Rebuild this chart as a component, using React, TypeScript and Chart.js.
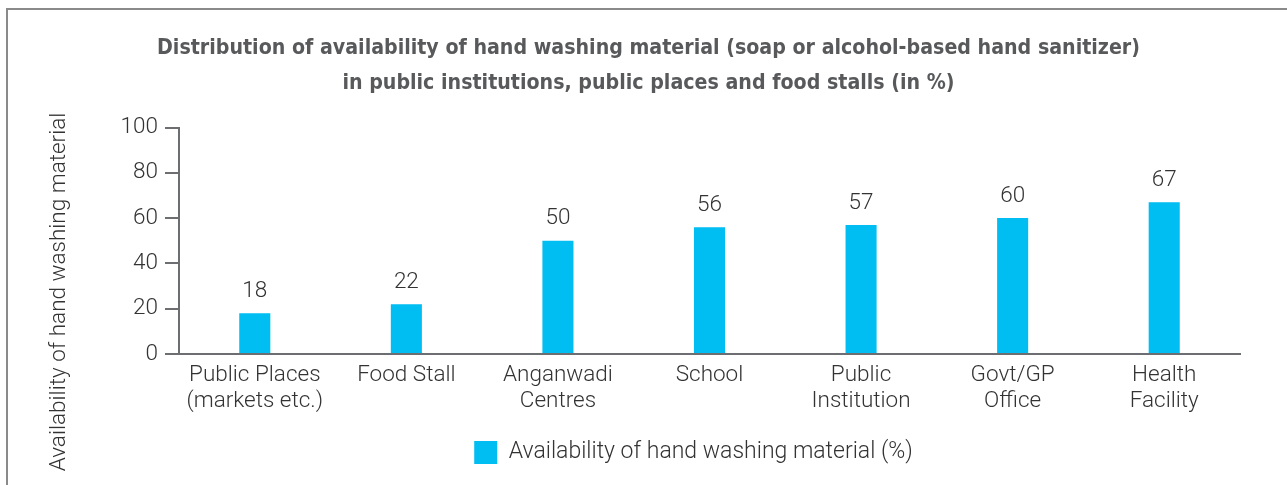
import React, { useEffect, useRef } from "react";
import { Chart, registerables } from "chart.js";

Chart.register(...registerables);

const categories: string[][] = [
  ["Public Places", "(markets etc.)"],
  ["Food Stall"],
  ["Anganwadi", "Centres"],
  ["School"],
  ["Public", "Institution"],
  ["Govt/GP", "Office"],
  ["Health", "Facility"],
];
const availability: number[] = [18, 22, 50, 56, 57, 60, 67];
const yTicks: number[] = [0, 20, 40, 60, 80, 100];
const seriesLabel = "Availability of hand washing material (%)";
const yAxisTitle = "Availability of hand washing material";
const titleLines = [
  "Distribution of availability of hand washing material (soap or alcohol-based hand sanitizer)",
  "in public institutions, public places and food stalls (in %)",
];

const BAR = "#00bdf2";
const AXIS = "#6d6e71";
const TEXT = "#333333";
const LIGHT = "Roboto";
const FS = 22.5;

const valueLabels = {
  id: "valueLabels",
  afterDatasetsDraw(chart: any) {
    const ctx = chart.ctx;
    const meta = chart.getDatasetMeta(0);
    ctx.save();
    ctx.font = `300 ${FS}px ${LIGHT}`;
    ctx.fillStyle = TEXT;
    ctx.textAlign = "center";
    ctx.textBaseline = "middle";
    meta.data.forEach((el: any, i: number) => {
      ctx.fillText(String(chart.data.datasets[0].data[i]), el.x, el.y - 22);
    });
    ctx.restore();
  },
};

const yTitle = {
  id: "yTitle",
  afterDraw(chart: any) {
    const ctx = chart.ctx;
    ctx.save();
    ctx.translate(59, 292);
    ctx.rotate(-Math.PI / 2);
    ctx.font = `300 ${FS}px ${LIGHT}`;
    ctx.fillStyle = TEXT;
    ctx.textAlign = "center";
    ctx.textBaseline = "middle";
    ctx.fillText(yAxisTitle, 0, 0);
    ctx.restore();
  },
};

const legendShift = {
  id: "legendShift",
  afterLayout(chart: any) {
    const lg = chart.legend;
    if (lg) {
      lg.left += 45;
      lg.right += 45;
    }
  },
};

export default function App() {
  const ref = useRef<HTMLCanvasElement | null>(null);
  useEffect(() => {
    if (!ref.current) return;
    const chart = new Chart(ref.current, {
      type: "bar",
      data: {
        labels: categories,
        datasets: [
          {
            label: seriesLabel,
            data: availability,
            backgroundColor: BAR,
            barPercentage: 0.205,
            categoryPercentage: 1,
          },
        ],
      },
      options: {
        responsive: false,
        animation: false,
        layout: { padding: { left: 57, right: 47, top: 31, bottom: 11 } },
        plugins: {
          tooltip: { enabled: false },
          title: {
            display: true,
            text: titleLines,
            color: "#58595b",
            font: { family: "'Liberation Sans Narrow', 'DejaVu Sans Condensed', sans-serif", size: 21.2, weight: "bold", lineHeight: 1.64 },
            padding: { top: 0, bottom: 27 },
          },
          legend: {
            position: "bottom",
            labels: {
              boxWidth: 23,
              boxHeight: 23,
              color: TEXT,
              font: { family: LIGHT, size: 23, weight: "300" },
              padding: 10,
            },
          },
        },
        scales: {
          x: {
            afterFit: (scale: any) => {
              scale.height = 77;
            },
            grid: { display: false },
            border: { display: true, color: AXIS, width: 2 },
            ticks: {
              color: TEXT,
              font: { family: LIGHT, size: FS, weight: "300", lineHeight: 1.17 },
              maxRotation: 0,
              autoSkip: false,
              padding: 0,
            },
          },
          y: {
            min: 0,
            max: 100,
            afterBuildTicks: (scale: any) => {
              scale.ticks = yTicks.map((v) => ({ value: v }));
            },
            afterFit: (scale: any) => {
              scale.width = 179 - 57;
            },
            grid: { drawOnChartArea: false, color: AXIS, lineWidth: 2, tickLength: 14 },
            border: { display: true, color: AXIS, width: 2 },
            ticks: {
              color: TEXT,
              font: { family: LIGHT, size: FS, weight: "300" },
              padding: 7,
            },
          },
        },
      },
      plugins: [valueLabels, yTitle, legendShift],
    });
    return () => chart.destroy();
  }, []);
  return (
    <div style={{ position: "fixed", left: 0, top: 0, width: 1287, height: 485, background: "#fff" }}>
      <div
        style={{
          position: "absolute",
          left: 6,
          top: 8,
          right: 0,
          bottom: 0,
          borderLeft: "2px solid #8a8a8a",
          borderTop: "2px solid #8a8a8a",
        }}
      />
      <canvas ref={ref} width={1287} height={485} style={{ position: "absolute", left: 0, top: 0 }} />
    </div>
  );
}
